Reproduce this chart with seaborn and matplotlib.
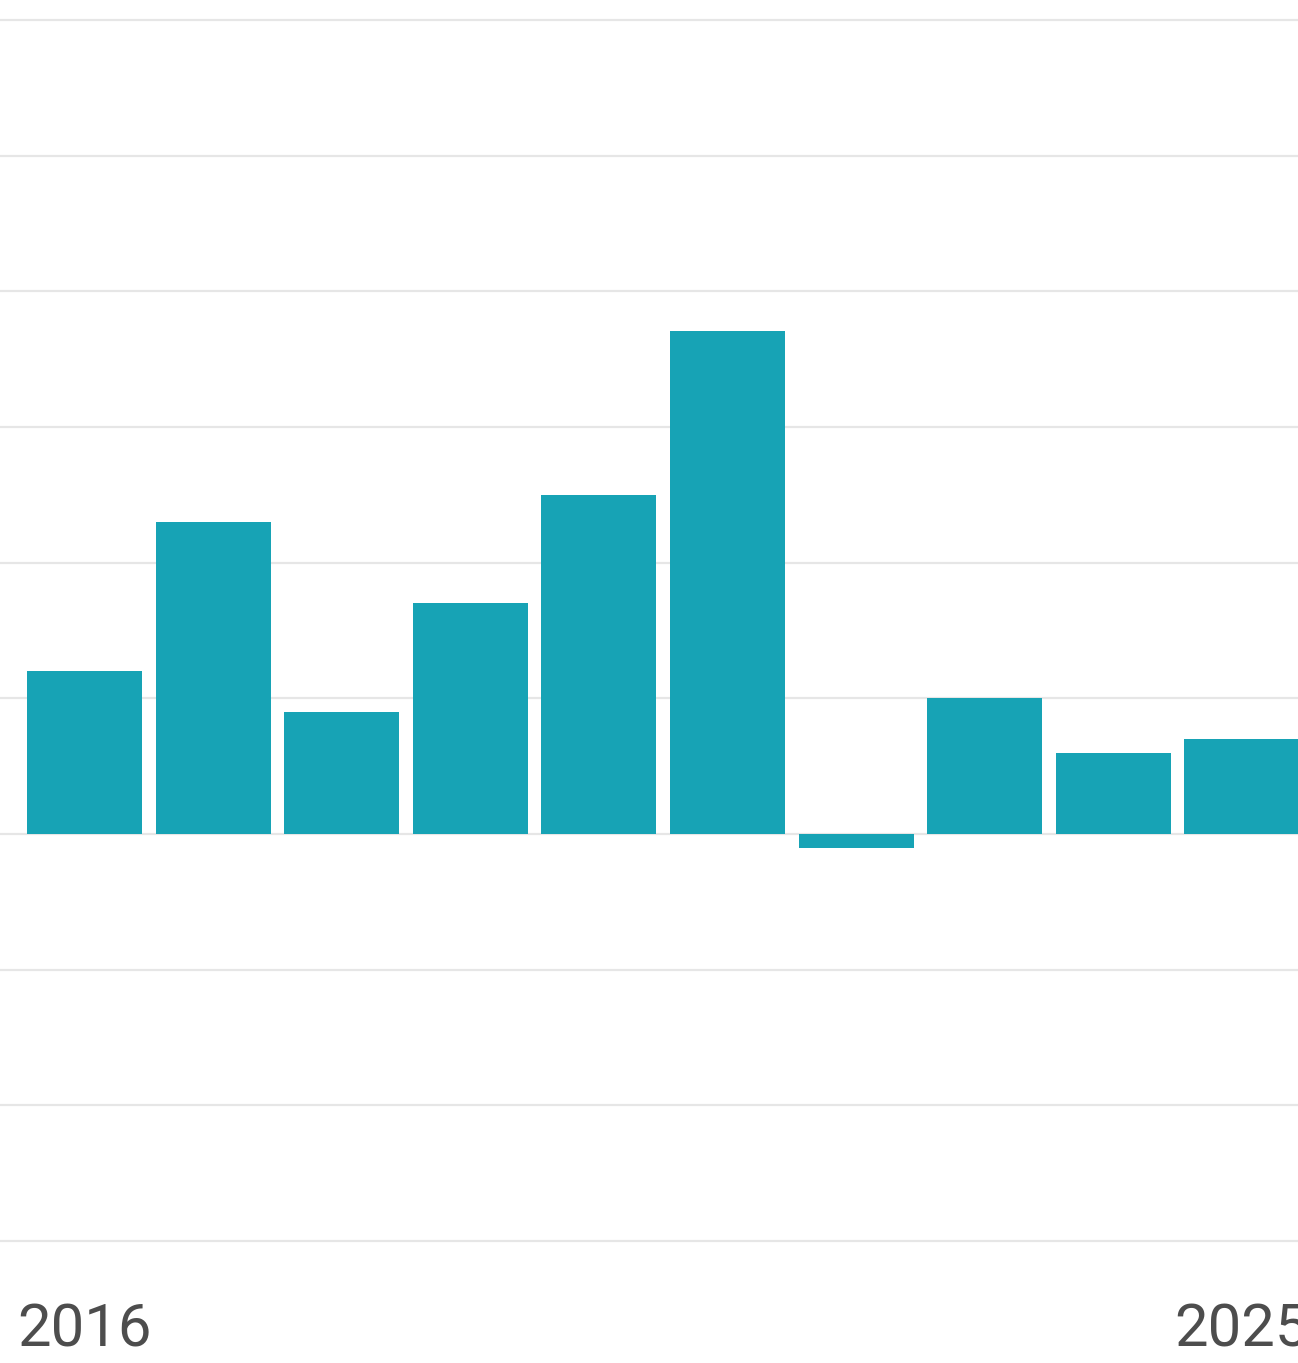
import matplotlib
matplotlib.use("Agg")
import matplotlib.pyplot as plt
import seaborn as sns
import pandas as pd

years = ["2016", "2017", "2018", "2019", "2020", "2021", "2022", "2023", "2024", "2025"]
values = [1.20, 2.30, 0.90, 1.70, 2.50, 3.71, -0.10, 1.00, 0.60, 0.70]
tick_labels = ["2016", "2025"]
grid_levels = [-3, -2, -1, 0, 1, 2, 3, 4, 5, 6]

sns.set_theme(style="white")
plt.rcParams["font.family"] = ["Roboto", "DejaVu Sans"]

df = pd.DataFrame({"year": years, "value": values})

W, H = 1298, 1363
fig = plt.figure(figsize=(W / 100, H / 100), dpi=100)
ax_bottom_px = 1260
ax = fig.add_axes([0, (H - ax_bottom_px) / H, 1, ax_bottom_px / H])

px_per_unit = (1241 - 20) / 9.0
for g in grid_levels:
    ax.axhline(g, color="#e6e6e6", lw=1.6, zorder=0)

sns.barplot(data=df, x="year", y="value", color="#17a3b5", saturation=1,
            width=0.894, ax=ax, zorder=2, edgecolor="none", linewidth=0)

spacing = 128.6
ax.set_xlim(-84.5 / spacing, (W - 84.5) / spacing)
ax.set_ylim(-3 - (ax_bottom_px - 1241) / px_per_unit, 6 + 20 / px_per_unit)

ax.set_xticks([0, 9])
ax.set_xticklabels(tick_labels)
ax.tick_params(axis="x", length=0, pad=30, labelsize=43, labelcolor="#4d4d4d")
ax.set_yticks([])
ax.set_xlabel("")
ax.set_ylabel("")
for s in ax.spines.values():
    s.set_visible(False)

fig.savefig("out.png", dpi=100)
